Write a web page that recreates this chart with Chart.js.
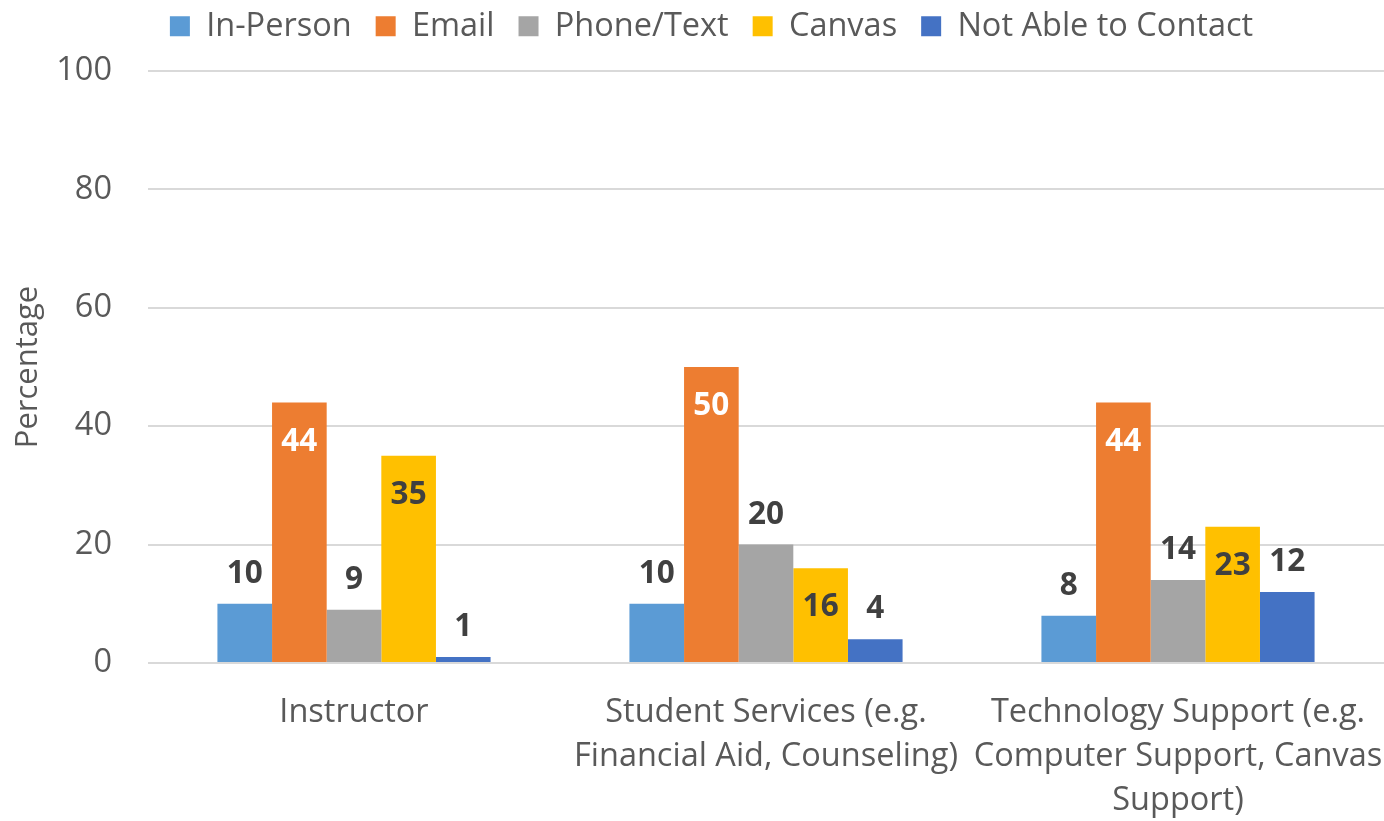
<!DOCTYPE html>
<html>
<head>
<meta charset="utf-8">
<script src="https://cdn.jsdelivr.net/npm/chart.js@4.4.1/dist/chart.umd.min.js"></script>
<style>
  html, body { margin: 0; padding: 0; background: #fff; }
  #wrap { width: 1384px; height: 821px; }
</style>
</head>
<body>
<div id="wrap"><canvas id="contactChart" width="1384" height="821"></canvas></div>
<script>
const categories = ['Instructor', ['Student Services (e.g.', 'Financial Aid, Counseling)'], ['Technology Support (e.g.', 'Computer Support, Canvas', 'Support)']];
const inPerson = [10, 10, 8];
const email    = [44, 50, 44];
const phone    = [9, 20, 14];
const canvasLms = [35, 16, 23];
const notAble  = [1, 4, 12];
const yTicks   = [0, 20, 40, 60, 80, 100];

const FONT = "'Open Sans', sans-serif";

// value labels: above the bar, or just inside its top
const valueLabels = {
  id: 'valueLabels',
  afterDatasetsDraw(chart) {
    const ctx = chart.ctx;
    ctx.save();
    ctx.font = 'bold 31.5px ' + FONT;
    ctx.textAlign = 'center';
    ctx.textBaseline = 'alphabetic';
    chart.data.datasets.forEach((ds, i) => {
      chart.getDatasetMeta(i).data.forEach((bar, j) => {
        const v = ds.data[j];
        if (ds.labelInside) {
          ctx.fillStyle = ds.labelColor;
          ctx.fillText(v, bar.x, bar.y + 48);
        } else {
          ctx.fillStyle = '#404040';
          ctx.fillText(v, bar.x, bar.y - 21);
        }
      });
    });
    ctx.restore();
  }
};

// pin the legend box so the plot top lands where it should
const legendBox = {
  id: 'legendBox',
  afterInit(chart) {
    const lg = chart.legend;
    const fit = lg.fit.bind(lg);
    lg.fit = function () { fit(); this.height = 71; };
  },
  afterLayout(chart) {
    const lg = chart.legend;
    lg.left = 39;
    lg.top = -14;
  }
};

new Chart(document.getElementById('contactChart'), {
  type: 'bar',
  data: {
    labels: categories,
    datasets: [
      { label: 'In-Person', data: inPerson, backgroundColor: '#5B9BD5' },
      { label: 'Email', data: email, backgroundColor: '#ED7D31', labelInside: true, labelColor: '#ffffff' },
      { label: 'Phone/Text', data: phone, backgroundColor: '#A5A5A5' },
      { label: 'Canvas', data: canvasLms, backgroundColor: '#FFC000', labelInside: true, labelColor: '#404040' },
      { label: 'Not Able to Contact', data: notAble, backgroundColor: '#4472C4' }
    ]
  },
  options: {
    responsive: false, animation: false,
    layout: { padding: 0 },
    barPercentage: 1, categoryPercentage: 0.663,
    plugins: {
      legend: { position: 'top', labels: { boxWidth: 20, boxHeight: 20, padding: 24, color: '#595959', font: { family: FONT, size: 32.5 } } },
      tooltip: { enabled: false }
    },
    scales: {
      x: {
        grid: { display: false, drawTicks: false },
        border: { display: false },
        ticks: { color: '#595959', font: { family: FONT, size: 32.5, lineHeight: 1.35 }, padding: 28, maxRotation: 0, autoSkip: false },
        afterFit: s => { s.height = 158; s.paddingLeft = 0; s.paddingRight = 0; }
      },
      y: {
        min: 0, max: 100,
        afterBuildTicks: s => { s.ticks = yTicks.map(v => ({ value: v })); },
        grid: { color: '#D9D9D9', lineWidth: 2, drawTicks: false },
        border: { display: false },
        ticks: { color: '#595959', font: { family: FONT, size: 32.5 }, padding: 36 },
        title: { display: true, text: 'Percentage', color: '#595959', font: { family: FONT, size: 31 }, padding: { top: 10, bottom: 0 } },
        afterFit: s => { s.width = 148; s.paddingTop = 0; s.paddingBottom = 0; }
      }
    }
  },
  plugins: [valueLabels, legendBox]
});
</script>
</body>
</html>
